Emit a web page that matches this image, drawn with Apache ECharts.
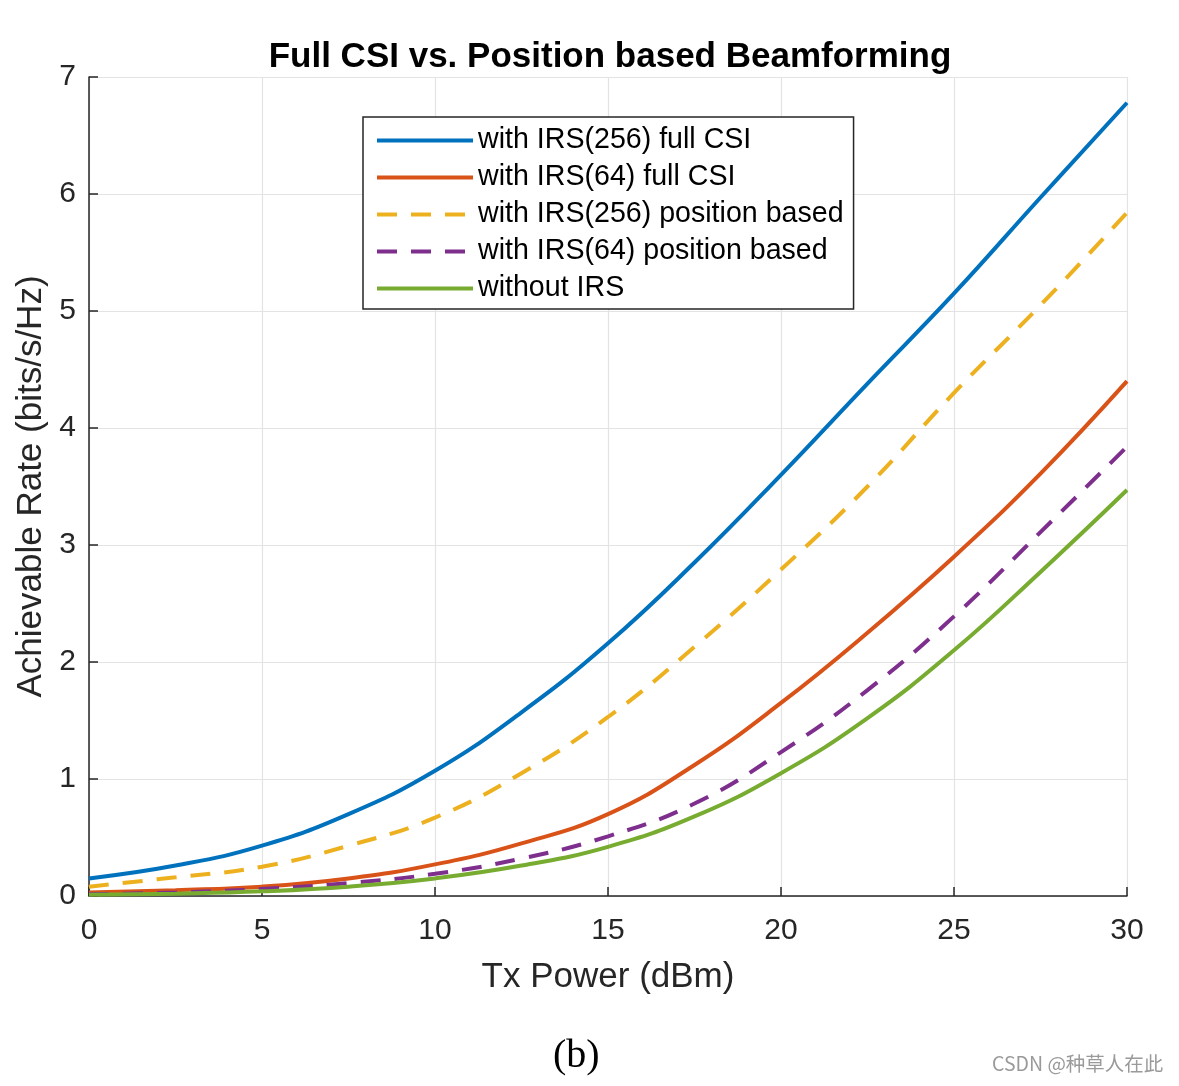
<!DOCTYPE html>
<html>
<head>
<meta charset="utf-8">
<script src="https://cdn.jsdelivr.net/npm/echarts@6/dist/echarts.min.js"></script>
<style>
html,body{margin:0;padding:0;background:#fff;}
#chart{width:1179px;height:1086px;}
</style>
</head>
<body>
<div id="chart"></div>
<script>
var txPower = [0, 2.5, 5, 7.5, 10, 12.5, 15, 17.5, 20, 22.5, 25, 27.5, 30];
var irs256Full = [0.15, 0.26, 0.43, 0.70, 1.07, 1.57, 2.16, 2.85, 3.60, 4.38, 5.15, 5.97, 6.78];
var irs64Full = [0.03, 0.05, 0.08, 0.15, 0.27, 0.45, 0.70, 1.12, 1.65, 2.25, 2.90, 3.61, 4.40];
var irs256Pos = [0.08, 0.16, 0.25, 0.43, 0.67, 1.05, 1.53, 2.13, 2.79, 3.50, 4.30, 5.05, 5.84];
var irs64Pos = [0.015, 0.03, 0.06, 0.11, 0.19, 0.32, 0.51, 0.79, 1.23, 1.76, 2.39, 3.11, 3.84];
var noIrs = [0.01, 0.02, 0.04, 0.08, 0.15, 0.26, 0.42, 0.68, 1.05, 1.52, 2.10, 2.77, 3.47];
var seriesNames = ['with IRS(256) full CSI', 'with IRS(64) full CSI', 'with IRS(256) position based', 'with IRS(64) position based', 'without IRS'];
var xTicks = [0, 5, 10, 15, 20, 25, 30];
var yTicks = [0, 1, 2, 3, 4, 5, 6, 7];

function pairs(ys) { return txPower.map(function (x, i) { return [x, ys[i]]; }); }
var colors = ['#0072BD', '#D95319', '#EDB120', '#7E2F8E', '#77AC30'];
var allData = [irs256Full, irs64Full, irs256Pos, irs64Pos, noIrs];
var dashed = [false, false, true, true, false];

var font = 'Liberation Sans, Arial, Helvetica, sans-serif';
var chart = echarts.init(document.getElementById('chart'));
chart.setOption({
  animation: false,
  backgroundColor: '#ffffff',
  title: {
    text: 'Full CSI vs. Position based Beamforming',
    left: 605, top: 35, textAlign: 'center',
    textStyle: {fontFamily: font, fontSize: 35, fontWeight: 'bold', color: '#000'}
  },
  grid: {left: 89, right: 52, top: 77, bottom: 190, containLabel: false},
  legend: {
    orient: 'vertical', left: 363, top: 117,
    padding: [9, 10, 6, 12],
    itemWidth: 96, itemHeight: 14, itemGap: 8,
    borderColor: '#262626', borderWidth: 1.5, backgroundColor: '#fff', borderRadius: 0,
    itemStyle: {opacity: 0},
    lineStyle: {width: 4},
    textStyle: {fontFamily: font, fontSize: 28.6, color: '#000', lineHeight: 28},
    data: seriesNames
  },
  xAxis: {
    type: 'value', min: 0, max: 30, interval: 5,
    name: 'Tx Power (dBm)', nameLocation: 'middle', nameGap: 64,
    nameTextStyle: {fontFamily: font, fontSize: 35, color: '#262626'},
    axisLine: {show: true, lineStyle: {color: '#262626', width: 1.5}},
    axisTick: {show: true, inside: true, length: 9, lineStyle: {color: '#262626', width: 1.5}},
    axisLabel: {fontFamily: font, fontSize: 30, color: '#262626', margin: 20,
      formatter: function (v) { return xTicks.indexOf(v) >= 0 ? String(v) : ''; }},
    splitLine: {show: true, lineStyle: {color: '#e3e3e3', width: 1.2}}
  },
  yAxis: {
    type: 'value', min: 0, max: 7, interval: 1,
    name: 'Achievable Rate (bits/s/Hz)', nameLocation: 'middle', nameGap: 40,
    nameTextStyle: {fontFamily: font, fontSize: 35, color: '#262626'},
    axisLine: {show: true, lineStyle: {color: '#262626', width: 1.5}},
    axisTick: {show: true, inside: true, length: 9, lineStyle: {color: '#262626', width: 1.5}},
    axisLabel: {fontFamily: font, fontSize: 30, color: '#262626', margin: 13,
      formatter: function (v) { return yTicks.indexOf(v) >= 0 ? String(v) : ''; }},
    splitLine: {show: true, lineStyle: {color: '#e3e3e3', width: 1.2}}
  },
  series: seriesNames.map(function (n, i) {
    return {
      name: n, type: 'line', data: pairs(allData[i]), smooth: 0.45,
      symbol: 'none', color: colors[i],
      lineStyle: {color: colors[i], width: 4, type: dashed[i] ? [20, 14] : 'solid'}
    };
  }),
  graphic: [
    {type: 'text', left: 553, top: 1036,
      style: {text: '(b)', font: '40px "Liberation Serif", "Times New Roman", serif', fill: '#000'}},
    {type: 'text', left: 992, top: 1054,
      style: {text: 'CSDN @种草人在此', font: '19.5px "Noto Sans CJK SC", sans-serif', fill: '#9a9a9a'}}
  ]
});
</script>
</body>
</html>
